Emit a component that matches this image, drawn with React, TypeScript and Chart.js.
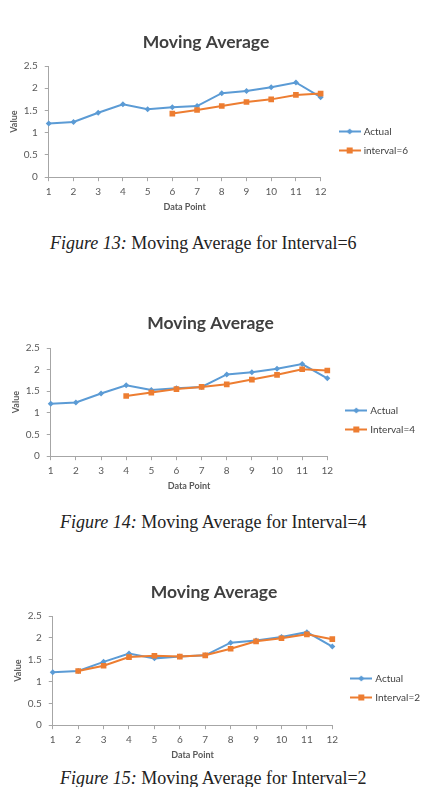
import React, { useEffect, useRef } from "react";
import { Chart, registerables } from "chart.js";

Chart.register(...registerables);

const dataPoints = ["1", "2", "3", "4", "5", "6", "7", "8", "9", "10", "11", "12"];
const actual = [1.21, 1.24, 1.45, 1.64, 1.53, 1.57, 1.6, 1.89, 1.94, 2.02, 2.13, 1.8];
const interval6 = [null, null, null, null, null, 1.43, 1.51, 1.6, 1.69, 1.75, 1.85, 1.88];
const interval4 = [null, null, null, 1.39, 1.47, 1.55, 1.6, 1.66, 1.77, 1.88, 2.01, 1.98];
const interval2 = [null, 1.24, 1.36, 1.56, 1.59, 1.57, 1.6, 1.75, 1.92, 1.99, 2.08, 1.97];
const yTicks = [0, 0.5, 1, 1.5, 2, 2.5];

const BLUE = "#5B9BD5";
const ORANGE = "#ED7D31";
const AXIS = "#a6a6a6";
const TEXT = "#595959";

function legendImage(color: string, style: "diamond" | "square"): HTMLCanvasElement {
  const c = document.createElement("canvas");
  c.width = 22;
  c.height = 9;
  const ctx = c.getContext("2d")!;
  ctx.strokeStyle = color;
  ctx.lineWidth = 2;
  ctx.beginPath();
  ctx.moveTo(0, 4.5);
  ctx.lineTo(22, 4.5);
  ctx.stroke();
  ctx.fillStyle = color;
  if (style === "square") {
    ctx.fillRect(8, 1.5, 6, 6);
  } else {
    ctx.beginPath();
    ctx.moveTo(11, 1.5);
    ctx.lineTo(14, 4.5);
    ctx.lineTo(11, 7.5);
    ctx.lineTo(8, 4.5);
    ctx.closePath();
    ctx.fill();
  }
  return c;
}

const shiftPlugin = {
  id: "shiftBoxes",
  afterLayout(chart: any, _args: any, opts: any) {
    const t = chart.titleBlock;
    if (t) {
      t.left += opts.titleDx || 0;
      t.right += opts.titleDx || 0;
    }
    const l = chart.legend;
    if (l) {
      l.left += opts.legendDx || 0;
      l.right += opts.legendDx || 0;
      l.top += opts.legendDy || 0;
      l.bottom += opts.legendDy || 0;
    }
  },
};

type BlockProps = {
  left: number;
  top: number;
  width: number;
  height: number;
  titlePadBottom: number;
  legendDy: number;
  maLabel: string;
  maData: (number | null)[];
};

function ChartBlock({ left, top, width, height, titlePadBottom, legendDy, maLabel, maData }: BlockProps) {
  const ref = useRef<HTMLCanvasElement | null>(null);
  useEffect(() => {
    if (!ref.current) return;
    const images = [legendImage(BLUE, "diamond"), legendImage(ORANGE, "square")];
    const tickFont = { family: "Lato", size: 10 };
    const chart = new Chart(ref.current, {
      type: "line",
      data: {
        labels: dataPoints,
        datasets: [
          {
            label: "Actual",
            data: actual,
            borderColor: BLUE,
            backgroundColor: BLUE,
            borderWidth: 2,
            pointStyle: "rectRot",
            pointRadius: 3,
            pointBorderWidth: 0,
            tension: 0,
            order: 1,
          },
          {
            label: maLabel,
            data: maData,
            borderColor: ORANGE,
            backgroundColor: ORANGE,
            borderWidth: 2,
            pointStyle: "rect",
            pointRadius: 4,
            pointBorderWidth: 0,
            tension: 0,
            order: 0,
          },
        ],
      },
      plugins: [shiftPlugin],
      options: {
        responsive: false,
        animation: false,
        layout: { padding: { left: 0, right: 10, top: 0, bottom: 0 } },
        plugins: {
          shiftBoxes: { titleDx: -2, legendDx: 11, legendDy },
          title: {
            display: true,
            text: "Moving Average",
            color: "#404040",
            font: { family: "Lato", size: 17.5, weight: "bold" },
            padding: { top: 0, bottom: titlePadBottom },
          },
          legend: {
            position: "right",
            labels: {
              usePointStyle: true,
              pointStyleWidth: 18,
              color: "#404040",
              font: { family: "Lato", size: 10 },
              padding: 9,
              generateLabels: (ch: any) => {
                const items = (Chart.defaults.plugins.legend.labels as any).generateLabels(ch);
                items.sort((a: any, b: any) => a.datasetIndex - b.datasetIndex);
                return items.map((it: any) => ({ ...it, pointStyle: images[it.datasetIndex] }));
              },
            },
          },
          tooltip: { enabled: false },
        },
        scales: {
          x: {
            type: "category",
            offset: false,
            grid: { display: true, drawOnChartArea: false, drawTicks: true, tickLength: 4, color: AXIS },
            border: { display: true, color: AXIS },
            ticks: { color: TEXT, font: tickFont, maxRotation: 0, autoSkip: false, padding: 5 },
            title: {
              display: true,
              text: "Data Point",
              color: TEXT,
              font: { family: "Lato", size: 9, weight: "bold" },
              padding: { top: -2, bottom: 0 },
            },
          },
          y: {
            min: 0,
            max: 2.5,
            grid: { display: true, drawOnChartArea: false, drawTicks: true, tickLength: 4, color: AXIS },
            border: { display: true, color: AXIS },
            afterBuildTicks: (scale: any) => {
              scale.ticks = yTicks.map((v) => ({ value: v }));
            },
            ticks: { color: TEXT, font: tickFont, padding: 7, callback: (v: any) => String(v) },
            title: {
              display: true,
              text: "Value",
              color: TEXT,
              font: { family: "Lato", size: 9, weight: "bold" },
              padding: { top: 0, bottom: -3 },
            },
          },
        },
      } as any,
    });
    return () => chart.destroy();
  }, [maLabel, maData, titlePadBottom, legendDy]);
  return (
    <canvas
      ref={ref}
      width={width}
      height={height}
      style={{ position: "absolute", left, top, width, height }}
    />
  );
}

function Caption({ top, left, num, interval }: { top: number; left: number; num: number; interval: number }) {
  return (
    <div
      style={{
        position: "absolute",
        top,
        left,
        fontFamily: "'Liberation Serif', 'Times New Roman', serif",
        fontSize: 18,
        color: "#222",
        whiteSpace: "nowrap",
        lineHeight: "20px",
      }}
    >
      <i>Figure {num}:</i> Moving Average for Interval={interval}
    </div>
  );
}

export default function App() {
  return (
    <div
      style={{
        position: "absolute",
        left: 0,
        top: 0,
        width: 431,
        height: 787,
        overflow: "hidden",
        background: "#fff",
      }}
    >
      <ChartBlock left={9} top={32} width={408} height={180} titlePadBottom={13} legendDy={19} maLabel="interval=6" maData={interval6} />
      <Caption top={233} left={50} num={13} interval={6} />
      <ChartBlock left={11} top={313} width={413} height={178} titlePadBottom={14} legendDy={18} maLabel="Interval=4" maData={interval4} />
      <Caption top={512} left={60} num={14} interval={4} />
      <ChartBlock left={13} top={582} width={416} height={178} titlePadBottom={13} legendDy={17} maLabel="Interval=2" maData={interval2} />
      <Caption top={768} left={60} num={15} interval={2} />
    </div>
  );
}
